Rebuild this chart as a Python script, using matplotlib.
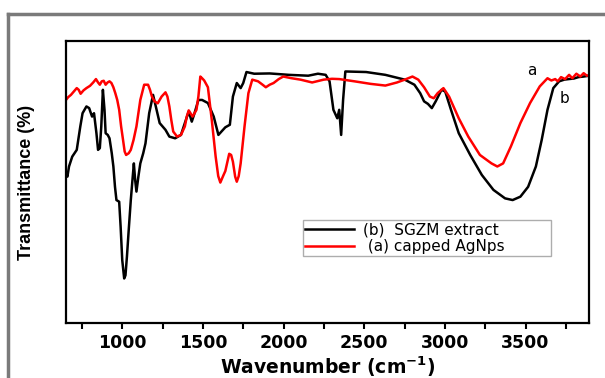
import matplotlib
matplotlib.use("Agg")
import matplotlib.pyplot as plt
from matplotlib.lines import Line2D
from matplotlib.ticker import MultipleLocator

# FTIR spectra, values (transmittance in arbitrary units)
wn_b = [651, 660, 670, 690, 718, 740, 754, 778, 795, 802, 813, 825, 840, 850, 861, 870,
        880, 890, 897, 910, 921, 935, 945, 955, 964, 981, 990, 1000, 1012, 1020, 1029,
        1040, 1053, 1065, 1072, 1080, 1088, 1100, 1112, 1130, 1144, 1167, 1191, 1208,
        1232, 1268, 1292, 1328, 1364, 1388, 1412, 1431, 1448, 1472, 1495, 1531, 1567,
        1596, 1615, 1639, 1667, 1686, 1710, 1734, 1750, 1770, 1818, 1914, 2033, 2153,
        2213, 2261, 2285, 2309, 2333, 2345, 2357, 2369, 2383, 2512, 2631, 2751, 2811,
        2847, 2871, 2895, 2919, 2943, 2979, 3002, 3038, 3086, 3157, 3229, 3301, 3373,
        3420, 3468, 3516, 3564, 3600, 3636, 3672, 3708, 3740, 3768, 3800, 3828, 3860, 3895]
t_b = [53.1, 51.9, 55.5, 59.0, 61.4, 69.7, 74.4, 76.8, 76.2, 75.0, 73.2, 74.4, 67.3, 61.4,
       62.0, 69.7, 82.7, 75.6, 67.3, 66.7, 65.5, 60.2, 55.5, 48.3, 43.6, 43.0, 34.1, 22.3,
       15.8, 16.9, 23.5, 32.9, 43.6, 51.9, 56.6, 50.7, 46.6, 51.9, 56.6, 60.2, 63.7, 74.4,
       80.9, 76.8, 70.9, 68.5, 66.1, 65.5, 66.7, 70.9, 75.0, 71.4, 74.4, 79.1, 79.1, 78.0,
       73.2, 66.7, 67.9, 69.4, 70.3, 80.3, 85.1, 83.3, 85.1, 89.0, 88.4, 88.5, 88.0, 87.7,
       88.4, 88.0, 85.7, 75.6, 72.6, 75.6, 66.7, 79.1, 89.2, 89.0, 88.0, 86.3, 84.5, 81.5,
       78.6, 77.7, 76.2, 78.6, 82.7, 82.1, 75.6, 67.3, 59.6, 52.5, 47.2, 44.2, 43.6, 44.8,
       48.3, 55.5, 64.9, 75.6, 83.3, 85.7, 86.3, 86.5, 86.7, 87.2, 87.4, 87.7]

wn_a = [651, 665, 682, 700, 718, 730, 742, 760, 778, 800, 820, 837, 850, 861, 873, 885,
        897, 909, 921, 933, 945, 957, 969, 981, 993, 1005, 1015, 1024, 1040, 1053, 1070,
        1088, 1100, 1112, 1136, 1160, 1172, 1184, 1200, 1220, 1244, 1268, 1280, 1292, 1304,
        1316, 1340, 1364, 1388, 1400, 1412, 1436, 1460, 1472, 1484, 1495, 1508, 1531, 1555,
        1579, 1595, 1608, 1625, 1639, 1663, 1675, 1686, 1700, 1710, 1722, 1734, 1758, 1782,
        1806, 1842, 1870, 1890, 1914, 1938, 1970, 1998, 2050, 2105, 2177, 2249, 2300, 2345,
        2440, 2540, 2631, 2703, 2751, 2799, 2835, 2871, 2907, 2931, 2955, 2991, 3026, 3086,
        3145, 3217, 3260, 3289, 3325, 3361, 3409, 3468, 3528, 3588, 3636, 3660, 3684, 3700,
        3720, 3745, 3770, 3790, 3815, 3840, 3860, 3880, 3895]
t_a = [79.1, 80.1, 80.9, 82.1, 83.3, 82.7, 81.3, 82.5, 83.3, 84.1, 85.3, 86.5, 85.3, 84.5,
       85.7, 85.9, 84.5, 85.3, 85.7, 85.1, 83.6, 81.5, 79.1, 75.6, 69.7, 64.9, 60.8, 59.6,
       60.2, 61.4, 64.9, 69.7, 74.4, 79.1, 84.5, 84.5, 82.7, 80.3, 78.6, 77.9, 80.3, 81.8,
       80.3, 76.8, 72.0, 67.9, 66.1, 66.7, 69.7, 73.2, 75.4, 73.2, 75.6, 80.3, 87.4, 86.8,
       86.0, 83.6, 72.0, 59.0, 52.1, 49.8, 52.1, 53.9, 60.0, 59.6, 57.2, 51.9, 50.1, 52.1,
       56.6, 69.7, 81.5, 86.3, 85.7, 84.5, 83.6, 84.5, 85.1, 86.5, 87.4, 86.8, 86.3, 85.3,
       86.3, 86.6, 86.5, 85.7, 84.8, 84.2, 85.3, 86.3, 87.4, 86.3, 83.6, 80.3, 79.7, 81.5,
       83.3, 80.3, 72.6, 66.1, 59.6, 57.8, 56.6, 55.5, 56.6, 62.6, 70.9, 78.0, 83.9, 86.8,
       86.0, 86.5, 85.7, 87.2, 86.5, 88.0, 86.8, 88.4, 87.4, 88.6, 87.7, 87.9]

label_b = "(b)  SGZM extract"
label_a = " (a) capped AgNps"

fig = plt.figure(figsize=(6.05, 3.78), dpi=100)
ax = fig.add_axes([0.109, 0.1455, 0.865, 0.746])

# grey frame around the figure (left and top edges visible)
fig.add_artist(Line2D([0.0135, 0.0135], [0, 0.963], transform=fig.transFigure,
                      color="#7a7a7a", lw=2.5))
fig.add_artist(Line2D([0.0135, 1.0], [0.963, 0.963], transform=fig.transFigure,
                      color="#7a7a7a", lw=2.5))

ax.plot(wn_b, t_b, color="black", lw=1.8, label=label_b)
ax.plot(wn_a, t_a, color="#ff0000", lw=1.8, label=label_a)

ax.set_xlim(651, 3895)
ax.set_ylim(0, 100)
ax.xaxis.set_major_locator(MultipleLocator(500))
ax.xaxis.set_minor_locator(MultipleLocator(250))
ax.set_yticks([])
ax.tick_params(axis="x", which="both", direction="out", length=4.5, width=1.5)
for lab in ax.get_xticklabels():
    lab.set_fontweight("bold")
    lab.set_fontsize(12.5)
    lab.set_family("DejaVu Sans")
for s in ax.spines.values():
    s.set_linewidth(1.6)

ax.set_xlabel("Wavenumber (cm$^{\\mathbf{-1}}$)", fontsize=13.5, fontweight="bold",
              family="DejaVu Sans", labelpad=2)
ax.set_ylabel("Transmittance (%)", fontsize=13, fontweight="bold",
              family="Liberation Sans", labelpad=22)

ax.text(3536, 89.6, "a", fontsize=11, ha="center", va="center")
ax.text(3744, 79.5, "b", fontsize=11, ha="center", va="center")

leg = ax.legend(loc="upper left", bbox_to_anchor=(0.453, 0.238, 0.474, 0.127),
                mode="expand", fontsize=11, frameon=True, fancybox=False,
                handlelength=3.2, borderpad=0.15, labelspacing=0.1,
                handletextpad=0.6, borderaxespad=0)
leg.get_frame().set_edgecolor("#999999")
leg.get_frame().set_linewidth(1.0)

fig.savefig("out.png", dpi=100)
